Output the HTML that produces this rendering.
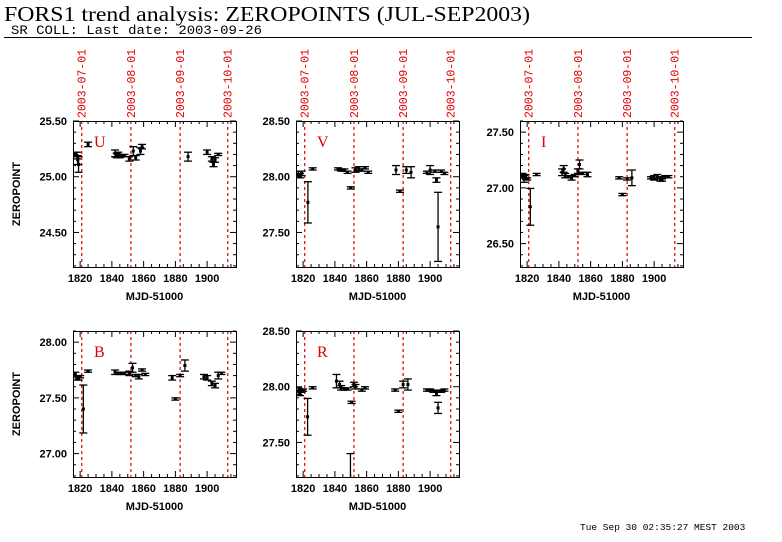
<!DOCTYPE html>
<html><head><meta charset="utf-8">
<style>
body{margin:0;background:#fff;width:782px;height:542px;overflow:hidden}
svg{display:block}
</style></head>
<body>
<svg id="chart" width="782" height="542" font-family="Liberation Sans, sans-serif">
<text x="4" y="21" textLength="526" lengthAdjust="spacingAndGlyphs" style="font-family:'Liberation Serif',serif;font-size:21px">FORS1 trend analysis: ZEROPOINTS (JUL-SEP2003)</text>
<text x="11" y="34" textLength="251" lengthAdjust="spacingAndGlyphs" style="font-family:'Liberation Mono',monospace;font-size:13px">SR COLL: Last date: 2003-09-26</text>
<line x1="4" y1="37.5" x2="752" y2="37.5" stroke="#000"/>
<text x="580" y="530" style="font-family:'Liberation Mono',monospace;font-size:9.5px">Tue Sep 30 02:35:27 MEST 2003</text>
</svg>
<script>
const dateLabels=["2003-07-01","2003-08-01","2003-09-01","2003-10-01"];
const dateMJD=[1821,1852,1883,1913];
const xTicks=[1820,1840,1860,1880,1900];
const filters=["U","V","I","B","R"];
const yMaxes=[25.5,28.5,27.6,28.1,28.5];
const uX=[1817,1818,1818.5,1819,1825,1842,1843,1844,1845,1846,1848,1851,1853.5,1855,1858,1859,1888,1900,1903,1904,1905,1907];
const uY=[25.20,25.19,25.15,25.11,25.29,25.21,25.19,25.20,25.18,25.19,25.19,25.16,25.23,25.17,25.23,25.27,25.18,25.22,25.16,25.11,25.15,25.20];
const uE=[0.02,0.03,0.04,0.07,0.02,0.03,0.02,0.02,0.01,0.01,0.01,0.02,0.04,0.02,0.03,0.02,0.04,0.02,0.02,0.02,0.02,0.01];
const vX=[1817,1818,1819,1823,1826,1842,1844,1846,1848,1850,1853,1855,1857,1859,1861,1878.5,1881,1885,1888,1898,1900,1903,1904,1905,1907,1909];
const vY=[28.02,28.01,28.03,27.77,28.07,28.07,28.06,28.06,28.04,27.90,28.06,28.07,28.06,28.08,28.04,28.06,27.87,28.06,28.04,28.04,28.06,28.05,27.97,27.55,28.05,28.03];
const vE=[0.03,0.02,0.02,0.185,0.01,0.01,0.01,0.01,0.01,0.01,0.02,0.02,0.01,0.01,0.01,0.04,0.01,0.03,0.05,0.01,0.04,0.01,0.02,0.31,0.01,0.01];
const iX=[1817,1818,1819,1820,1822,1826,1842,1843,1844,1846,1848,1850,1852,1853,1855,1858,1878,1880,1883,1886,1898,1900,1902,1904,1905,1907,1909];
const iY=[27.11,27.08,27.10,27.08,26.83,27.12,27.14,27.17,27.11,27.10,27.09,27.11,27.15,27.21,27.13,27.12,27.09,26.94,27.08,27.09,27.09,27.09,27.10,27.08,27.07,27.10,27.10];
const iE=[0.02,0.03,0.02,0.01,0.165,0.01,0.03,0.03,0.02,0.01,0.02,0.01,0.02,0.04,0.01,0.02,0.01,0.01,0.01,0.07,0.01,0.02,0.02,0.02,0.01,0.01,0.01];
const bX=[1817,1818,1819,1820,1822,1825,1842,1844,1846,1848,1851,1853,1855,1857,1859,1861,1878,1880,1883,1886,1898,1900,1903,1905,1907,1909];
const bY=[27.71,27.68,27.67,27.69,27.40,27.74,27.73,27.72,27.72,27.72,27.72,27.77,27.70,27.69,27.75,27.71,27.68,27.49,27.70,27.79,27.69,27.68,27.63,27.61,27.70,27.72];
const bE=[0.02,0.02,0.01,0.01,0.215,0.01,0.02,0.01,0.01,0.01,0.02,0.04,0.01,0.02,0.01,0.01,0.02,0.01,0.01,0.05,0.02,0.02,0.02,0.02,0.03,0.01];
const rX=[1817,1818,1819,1820,1822.8,1826,1841,1843,1844,1846,1848,1849.8,1850.5,1852,1853,1857,1859,1878,1880,1883,1886,1898,1900,1902,1904,1905,1907,1909];
const rY=[27.96,27.94,27.96,27.97,27.73,27.99,28.05,28.02,27.99,27.98,27.98,27.00,27.86,28.02,28.00,27.97,27.99,27.97,27.78,28.02,28.02,27.97,27.97,27.96,27.94,27.81,27.96,27.97];
const rE=[0.03,0.02,0.01,0.01,0.165,0.01,0.06,0.03,0.02,0.01,0.01,0.40,0.01,0.02,0.02,0.01,0.01,0.01,0.01,0.03,0.05,0.01,0.01,0.01,0.02,0.05,0.01,0.01];
const seriesX=[uX,vX,iX,bX,rX], seriesY=[uY,vY,iY,bY,rY], seriesE=[uE,vE,iE,bE,rE];

const NS="http://www.w3.org/2000/svg";
const svg=document.getElementById("chart");
const XMIN=1815.5,XMAX=1918.2,SPAN=1.31,W=163,H=146;
const lefts=[73,296,520,73,296], tops=[121,121,121,331,331];
function mk(tag,attrs,parent){const e=document.createElementNS(NS,tag);for(const k in attrs)e.setAttribute(k,attrs[k]);(parent||svg).appendChild(e);return e;}

filters.forEach((f,p)=>{
  const L=lefts[p],T=tops[p],ymax=yMaxes[p],ymin=ymax-SPAN;
  const sx=d=>L+(d-XMIN)/(XMAX-XMIN)*W;
  const sy=v=>T+(ymax-v)/SPAN*H;
  const g=mk("g",{});
  
  
  mk("defs",{},g).innerHTML=`<clipPath id="clip${p}"><rect x="${L}" y="${T}" width="${W}" height="${H}"/></clipPath>`;
  for(let d=1820;d<=1915;d+=5){
    const x=sx(d),len=(d%20===0)?6:3;
    const t1=mk("line",{x1:x,y1:T+H,x2:x,y2:T+H-len,stroke:"#000"},g);
    
    
    mk("line",{x1:x,y1:T,x2:x,y2:T+len,stroke:"#000"},g);
  }
  xTicks.forEach(d=>{
    const t=mk("text",{x:sx(d),y:T+H+15,"text-anchor":"middle","font-size":"11","font-weight":"bold"},g);
    t.textContent=d;
    
    
  });
  const start=Math.ceil(ymin*10-1e-6);
  for(let k=start;k/10<=ymax+1e-6;k++){
    const v=k/10,y=sy(v),maj=(k%5===0),len=maj?6:3;
    mk("line",{x1:L,y1:y,x2:L+len,y2:y,stroke:"#000"},g);
    mk("line",{x1:L+W,y1:y,x2:L+W-len,y2:y,stroke:"#000"},g);
    if(maj){
      const t=mk("text",{x:L-6,y:y+4,"text-anchor":"end","font-size":"11","font-weight":"bold"},g);
      t.textContent=v.toFixed(2);
      
      
    }
  }
  dateMJD.forEach((d,i)=>{
    const x=sx(d);
    const ln=mk("line",{x1:x,y1:T,x2:x,y2:T+H,stroke:"#e00000","stroke-dasharray":"3,3","stroke-width":"1.2"},g);
    
    
    if(T===121){
      const t=mk("text",{x:0,y:0,transform:`translate(${x+4},${T-3}) rotate(-90)`,style:"font-family:'Liberation Mono',monospace;font-size:11.5px",fill:"#e00000"},g);
      t.textContent=dateLabels[i];
      
      
    }
  });
  const dg=mk("g",{"clip-path":`url(#clip${p})`},g);
  seriesX[p].forEach((d,i)=>{
    const x=sx(d),y=sy(seriesY[p][i]),e=seriesE[p][i];
    const y1=sy(seriesY[p][i]+e),y2=sy(seriesY[p][i]-e);
    const pt=mk("g",{},dg);
    
    
    mk("line",{x1:x,y1:y1,x2:x,y2:y2,stroke:"#000","stroke-width":"1.3"},pt);
    mk("line",{x1:x-4,y1:y1,x2:x+4,y2:y1,stroke:"#000","stroke-width":"1.3"},pt);
    mk("line",{x1:x-4,y1:y2,x2:x+4,y2:y2,stroke:"#000","stroke-width":"1.3"},pt);
    mk("rect",{x:x-1.5,y:y-1.5,width:3,height:3,fill:"#000"},pt);
  });
  const fr=mk("rect",{x:L+0.5,y:T+0.5,width:W,height:H,fill:"none",stroke:"#000","stroke-width":"1"},g);
  
  
  const lt=mk("text",{x:L+21,y:T+26,style:"font-family:'Liberation Serif',serif;font-size:16px",fill:"#e00000"},g);
  lt.textContent=f;
  
  
  const xt=mk("text",{x:L+W/2,y:T+H+33,"text-anchor":"middle","font-size":"11","font-weight":"bold"},g);
  xt.textContent="MJD-51000";
  
  
  if(L===73){
    const yt=mk("text",{x:0,y:0,transform:`translate(20,${T+H/2}) rotate(-90)`,"text-anchor":"middle","font-size":"11","font-weight":"bold"},g);
    yt.textContent="ZEROPOINT";
    
    
  }
});
</script>
</body></html>
